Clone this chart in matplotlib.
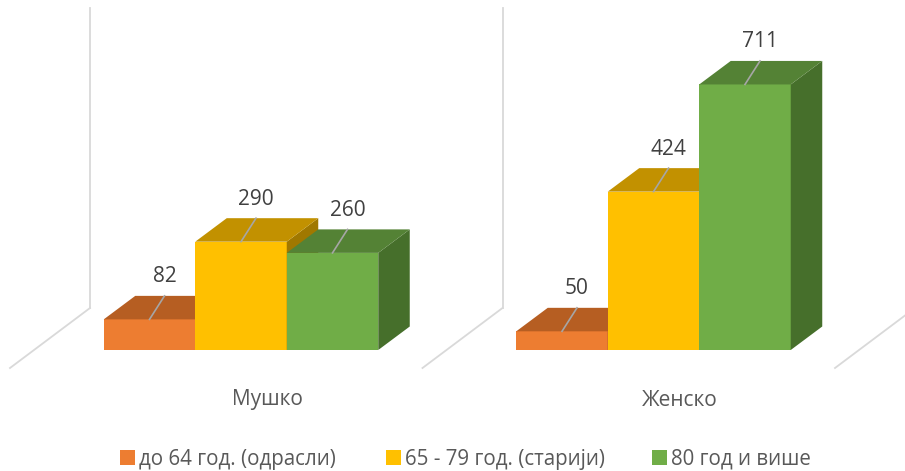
import matplotlib
matplotlib.use("Agg")
import matplotlib.pyplot as plt
from matplotlib.patches import Polygon, Rectangle

plt.rcParams['font.family'] = ['Open Sans', 'DejaVu Sans']

# ================================
# data
# ================================
categories = ["Мушко", "Женско"]
series_names = ["до 64 год. (одрасли)", "65 - 79 год. (старији)", "80 год и више"]
adult = [82, 50]
senior = [290, 424]
oldest = [260, 711]
series_values = [adult, senior, oldest]

front_colors = ["#ED7D31", "#FFC000", "#70AD47"]
top_colors = ["#B65E22", "#C29100", "#548235"]
side_colors = ["#9C4F1B", "#A07800", "#466F2B"]

# ================================
# layout (pixel anchors of the reference)
# ================================
W, H = 905, 471
GROUP_PX = 412.5      # distance between groups
FIRST_PX = 241        # center of first group
BASE_PX = 350         # floor line
PX_PER_VAL = 0.3735

bar_w = 91.5 / GROUP_PX
depth_x = 31.5 / GROUP_PX
depth_y = 23.5 / PX_PER_VAL
lead_x = 15 / GROUP_PX
label_gap = 19 / PX_PER_VAL

fig = plt.figure(figsize=(W / 100, H / 100), dpi=100)
ax = fig.add_axes([0, 0, 1, 1])
ax.set_xlim(-FIRST_PX / GROUP_PX, (W - FIRST_PX) / GROUP_PX)
ax.set_ylim(-(H - BASE_PX) / PX_PER_VAL, BASE_PX / PX_PER_VAL)
ax.axis("off")

# back walls / floor separators
wall_col = "#D9D9D9"
wall_top = (BASE_PX - 8) / PX_PER_VAL
wall_bot = (BASE_PX - 308) / PX_PER_VAL
floor_front = (BASE_PX - 368) / PX_PER_VAL
for k in range(3):
    xb = (90 - FIRST_PX) / GROUP_PX + k
    ax.plot([xb, xb], [wall_bot, wall_top], color=wall_col, lw=1.3, zorder=1)
    ax.plot([xb, xb - 80 / GROUP_PX], [wall_bot, floor_front], color=wall_col, lw=1.3, zorder=1)

# bars
for j, vals in enumerate(series_values):
    xs = [i + (j - 1) * bar_w for i in range(len(categories))]
    z = 3 + j
    ax.bar(xs, vals, width=bar_w, color=front_colors[j], linewidth=0, zorder=z)
    for x, v in zip(xs, vals):
        l, r = x - bar_w / 2, x + bar_w / 2
        top = Polygon([(l, v), (r, v), (r + depth_x, v + depth_y), (l + depth_x, v + depth_y)],
                      closed=True, facecolor=top_colors[j], edgecolor="none", zorder=z)
        side = Polygon([(r, 0), (r + depth_x, depth_y), (r + depth_x, v + depth_y), (r, v)],
                       closed=True, facecolor=side_colors[j], edgecolor="none", zorder=z)
        ax.add_patch(side)
        ax.add_patch(top)
        ax.plot([x, x + lead_x], [v, v + depth_y], color="#A6A6A6", lw=1.2, zorder=10)
        ax.text(x + lead_x, v + depth_y + label_gap, str(v), ha="center", va="center",
                fontsize=15, color="#404040", zorder=11)

# category labels
for i, name in enumerate(categories):
    ax.text(i + 26 / GROUP_PX, (BASE_PX - 400) / PX_PER_VAL, name, ha="center", va="center",
            fontsize=15, color="#595959")

# legend
legend_px = [120, 386, 652]
for j, name in enumerate(series_names):
    x0 = legend_px[j]
    fig.patches.append(Rectangle((x0 / W, 1 - 465 / H), 15 / W, 15 / H,
                                 transform=fig.transFigure, facecolor=front_colors[j],
                                 edgecolor="none"))
    fig.text((x0 + 19) / W, 1 - 459 / H, name, ha="left", va="center",
             fontsize=14.8, color="#595959")

fig.savefig("out.png", dpi=100)
